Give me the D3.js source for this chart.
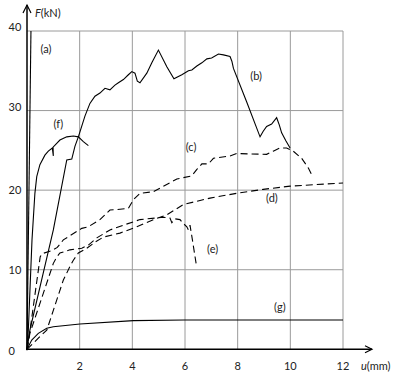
<!DOCTYPE html>
<html>
<head>
<meta charset="utf-8">
<script src="https://cdn.jsdelivr.net/npm/d3@7"></script>
<style>
  body { margin: 0; background: #fff; }
  svg text { font-family: Lato, "Noto Sans", sans-serif; fill: #222; }
</style>
</head>
<body>
<div id="chart"></div>
<script>
// tick values
const xTicks = [2, 4, 6, 8, 10, 12];
const yTicks = [0, 10, 20, 30, 40];

// curves as [u (mm), F (kN)]
const curveA = [[0, 0], [0.15, 40]];
const curveB = [[0, 0], [0.11, 2.4], [1.0, 15.0], [1.51, 23.8], [1.70, 23.9], [1.82, 25.5], [1.95, 26.7],
  [2.20, 29.3], [2.39, 30.9], [2.58, 31.8], [2.77, 32.2], [2.96, 32.8], [3.15, 32.6], [3.34, 33.2],
  [3.47, 33.5], [3.66, 33.9], [3.85, 34.5], [3.98, 34.9], [4.10, 34.7], [4.19, 33.7], [4.29, 33.5],
  [4.55, 34.7], [4.74, 36.0], [4.99, 37.6], [5.31, 35.5], [5.58, 34.0], [5.88, 34.5], [6.13, 35.0],
  [6.26, 35.1], [6.45, 35.6], [6.64, 36.0], [6.83, 36.5], [7.01, 36.6], [7.27, 37.1], [7.46, 37.0],
  [7.71, 36.8], [7.78, 36.2], [7.84, 35.3], [8.34, 31.1], [8.85, 26.7], [8.97, 27.4], [9.10, 28.0],
  [9.29, 28.3], [9.48, 29.1], [9.58, 28.2], [9.67, 27.2], [9.83, 26.2], [9.99, 25.3]];
const curveC = [[0, 0], [0.12, 2.5], [0.5, 11.6], [0.56, 12.0], [0.94, 12.4], [1.15, 12.8], [1.38, 13.75],
  [2.08, 15.2], [2.33, 15.4], [2.77, 16.3], [3.15, 17.5], [3.53, 17.6], [3.85, 17.7], [4.04, 18.8],
  [4.29, 19.6], [4.80, 19.8], [5.18, 20.5], [5.69, 21.4], [6.26, 21.8], [6.45, 22.6], [6.64, 23.3],
  [6.89, 23.3], [7.08, 24.0], [7.71, 24.3], [7.96, 24.6], [9.10, 24.5], [9.35, 24.9], [9.61, 25.3],
  [9.86, 25.3], [10.11, 24.9], [10.43, 24.0], [10.68, 22.8], [10.85, 21.7]];
const curveD = [[0, 0], [0.30, 0.96], [0.49, 1.6], [0.75, 2.4], [1.0, 4.9], [1.38, 8.7], [1.63, 10.4],
  [1.76, 11.2], [1.95, 12.1], [2.27, 12.7], [2.6, 13.5], [2.9, 14.1], [3.53, 14.6], [4.17, 15.4],
  [4.80, 16.3], [5.31, 16.9], [5.94, 18.2], [6.95, 19.0], [7.96, 19.6], [8.97, 20.1], [9.99, 20.5],
  [12.0, 20.9]];
const curveE = [[0, 0], [0.11, 2.0], [1.0, 10.8], [1.13, 11.6], [1.25, 12.1], [1.63, 12.5], [2.08, 12.7],
  [2.33, 13.1], [2.65, 14.0], [3.15, 15.0], [3.66, 15.6], [4.29, 16.3], [5.18, 16.6], [5.43, 16.5],
  [5.50, 15.9], [5.62, 16.4], [5.81, 16.3], [5.94, 15.8], [6.07, 15.4], [6.13, 15.0], [6.19, 15.6],
  [6.26, 14.2], [6.44, 10.4]];
const curveF = [[0, 0], [0.05, 2.4], [0.19, 13.75], [0.30, 19.6], [0.37, 21.7], [0.49, 23.2], [0.68, 24.4],
  [0.81, 24.9], [0.96, 25.3], [1.0, 24.3], [0.99, 25.4], [1.25, 26.3], [1.51, 26.7], [1.76, 26.8],
  [1.95, 26.7], [2.14, 26.1], [2.33, 25.6]];
const curveG = [[0, 0], [0.18, 1.17], [0.43, 2.0], [0.75, 2.64], [1.0, 2.84], [2.01, 3.18], [4.04, 3.6],
  [5.97, 3.69], [8.85, 3.69], [12, 3.69]];

// curve labels: [text, u, F]
const labels = [["(a)", 0.72, 37.2], ["(b)", 8.7, 33.8], ["(c)", 6.23, 24.9], ["(d)", 9.3, 18.5],
  ["(e)", 7.05, 12.1], ["(f)", 1.19, 27.8], ["(g)", 9.6, 4.8]];

const width = 401, height = 374;

const x = d3.scaleLinear().domain([0, 12]).range([27, 343]);
const y = d3.scaleLinear().domain([0, 40]).range([349.3, 31]);

const svg = d3.select("#chart").append("svg")
  .attr("width", width)
  .attr("height", height);

// grid
svg.append("g")
  .selectAll("line")
  .data(xTicks)
  .join("line")
  .attr("x1", d => x(d)).attr("x2", d => x(d))
  .attr("y1", y(0)).attr("y2", y(40))
  .attr("stroke", "#9a9a9a").attr("stroke-width", 1);

svg.append("g")
  .selectAll("line")
  .data(yTicks.filter(d => d > 0))
  .join("line")
  .attr("x1", x(0)).attr("x2", x(12))
  .attr("y1", d => y(d)).attr("y2", d => y(d))
  .attr("stroke", "#9a9a9a").attr("stroke-width", 1);

// curves
const line = d3.line().x(d => x(d[0])).y(d => y(d[1]));
const solid = [curveA, curveB, curveF, curveG];
const dashed = [curveC, curveD, curveE];

svg.append("g")
  .selectAll("path")
  .data(solid)
  .join("path")
  .attr("d", line)
  .attr("fill", "none")
  .attr("stroke", "#000")
  .attr("stroke-width", 1.1);

svg.append("g")
  .selectAll("path")
  .data(dashed)
  .join("path")
  .attr("d", line)
  .attr("fill", "none")
  .attr("stroke", "#000")
  .attr("stroke-width", 1.1)
  .attr("stroke-dasharray", "7,4");

// axes with open arrow heads
svg.append("line")
  .attr("x1", x(0)).attr("x2", x(0))
  .attr("y1", y(0) + 1).attr("y2", 5)
  .attr("stroke", "#000").attr("stroke-width", 1.5);
svg.append("path")
  .attr("d", `M${x(0) - 4},13 L${x(0)},5 L${x(0) + 4},13`)
  .attr("fill", "none").attr("stroke", "#000").attr("stroke-width", 1.2);

svg.append("line")
  .attr("x1", x(0) - 1).attr("x2", 372)
  .attr("y1", y(0)).attr("y2", y(0))
  .attr("stroke", "#000").attr("stroke-width", 1.5);
svg.append("path")
  .attr("d", `M365,${y(0) - 3.5} L372,${y(0)} L365,${y(0) + 3.5}`)
  .attr("fill", "none").attr("stroke", "#000").attr("stroke-width", 1.2);

// tick labels
svg.append("g")
  .selectAll("text")
  .data(yTicks)
  .join("text")
  .attr("x", 8.5)
  .attr("y", d => y(d) + (d === 0 ? 6 : d >= 30 ? 0 : 4))
  .attr("font-size", 11)
  .text(d => d);

svg.append("g")
  .selectAll("text")
  .data(xTicks)
  .join("text")
  .attr("x", d => x(d))
  .attr("y", 370)
  .attr("text-anchor", "middle")
  .attr("font-size", 11)
  .text(d => d);

// axis titles
const fTitle = svg.append("text").attr("x", 35).attr("y", 17).attr("font-size", 11);
fTitle.append("tspan").attr("font-style", "italic").text("F");
fTitle.append("tspan").text("(kN)");

const uTitle = svg.append("text").attr("x", 361).attr("y", 370).attr("font-size", 11);
uTitle.append("tspan").attr("font-style", "italic").text("u");
uTitle.append("tspan").text("(mm)");

// curve labels
svg.append("g")
  .selectAll("text")
  .data(labels)
  .join("text")
  .attr("x", d => x(d[1]))
  .attr("y", d => y(d[2]))
  .attr("text-anchor", "middle")
  .attr("font-size", 11)
  .text(d => d[0]);
</script>
</body>
</html>
